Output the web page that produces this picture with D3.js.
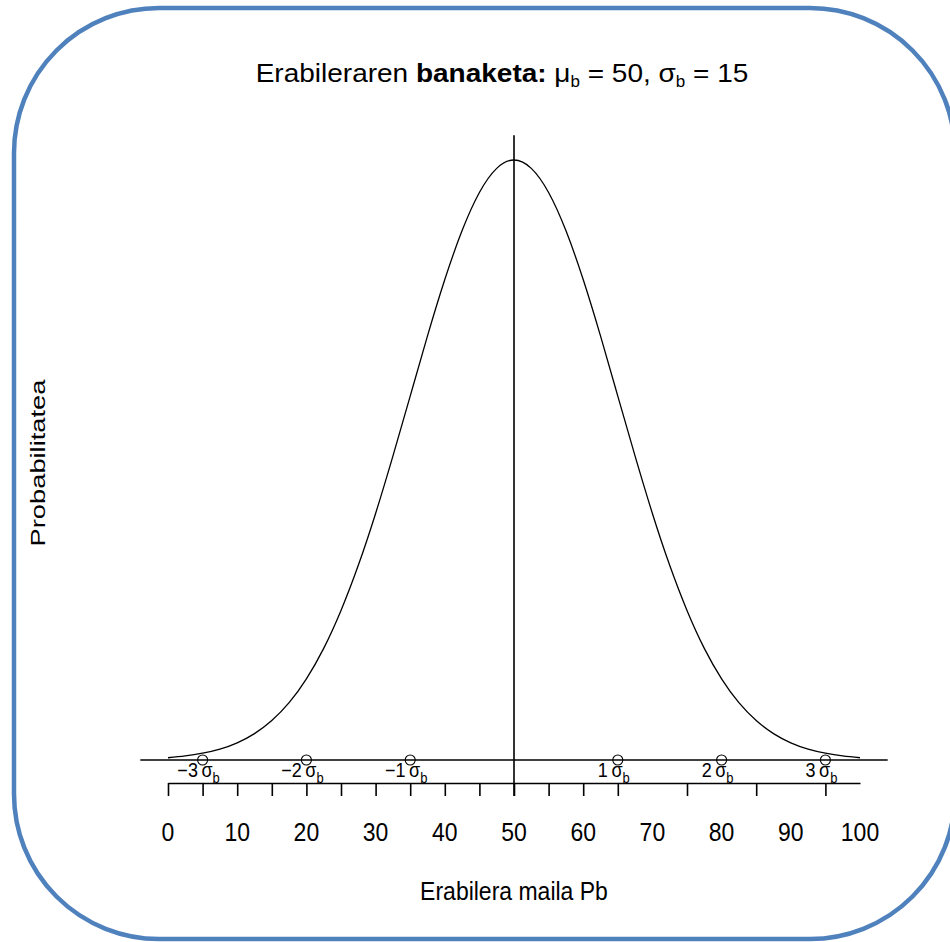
<!DOCTYPE html>
<html>
<head>
<meta charset="utf-8">
<script src="https://cdn.jsdelivr.net/npm/d3@7"></script>
<style>
  body { margin: 0; background: #fff; }
  text, tspan { font-family: "Liberation Sans", Arial, sans-serif; fill: #000; }
</style>
</head>
<body>
<div class="box"></div>
<script>
// data
const curveX = [0, 2.5, 5, 7.5, 10, 12.5, 15, 17.5, 20, 22.5, 25, 27.5, 30, 32.5, 35, 37.5, 40, 42.5, 45, 47.5, 50,
                52.5, 55, 57.5, 60, 62.5, 65, 67.5, 70, 72.5, 75, 77.5, 80, 82.5, 85, 87.5, 90, 92.5, 95, 97.5, 100];
const curveY = [0.00010, 0.00018, 0.00030, 0.00048, 0.00076, 0.00117, 0.00175, 0.00254, 0.00360, 0.00495,
                0.00663, 0.00863, 0.01093, 0.01347, 0.01613, 0.01880, 0.02130, 0.02347, 0.02516, 0.02623,
                0.02660,
                0.02623, 0.02516, 0.02347, 0.02130, 0.01880, 0.01613, 0.01347, 0.01093, 0.00863, 0.00663,
                0.00495, 0.00360, 0.00254, 0.00175, 0.00117, 0.00076, 0.00048, 0.00030, 0.00018, 0.00010];
const sigmaPos = [5, 20, 35, 65, 80, 95];
const sigmaLabels = ['\u22123', '\u22122', '\u22121', '1', '2', '3'];
const tickVals = [0, 5, 10, 15, 20, 25, 30, 35, 40, 45, 50, 55, 60, 65, 75, 85, 95];
const tickLabels = [0, 10, 20, 30, 40, 50, 60, 70, 80, 90, 100];
const meanVal = 50;

const svg = d3.select('.box')
              .append('svg')
              .attr('width', 950)
              .attr('height', 942);

// rounded frame
svg.append('rect')
   .attr('x', 14).attr('y', 8)
   .attr('width', 941).attr('height', 931)
   .attr('rx', 145).attr('ry', 145)
   .attr('fill', 'none')
   .attr('stroke', '#4f81bd')
   .attr('stroke-width', 4.5);

// scales
const x = d3.scaleLinear().domain([0, 100]).range([168, 860]);
const y = d3.scaleLinear().domain([0, 0.0266]).range([760, 160]);

// base line through zero density
svg.append('line')
   .attr('x1', x(-4)).attr('x2', x(104))
   .attr('y1', y(0)).attr('y2', y(0))
   .attr('stroke', '#000').attr('stroke-width', 1.6);

// density curve
const line = d3.line()
               .x((d, i) => x(d))
               .y((d, i) => y(curveY[i]))
               .curve(d3.curveNatural);

svg.append('path')
   .attr('d', line(curveX))
   .attr('fill', 'none')
   .attr('stroke', '#000')
   .attr('stroke-width', 1.3);

// mean line
svg.append('line')
   .attr('x1', x(meanVal)).attr('x2', x(meanVal))
   .attr('y1', y(0.0277)).attr('y2', 796)
   .attr('stroke', '#000').attr('stroke-width', 1.6);

// sigma markers
svg.selectAll('circle.sig')
   .data(sigmaPos)
   .enter()
   .append('circle')
   .attr('class', 'sig')
   .attr('cx', d => x(d))
   .attr('cy', y(0))
   .attr('r', 5)
   .attr('fill', 'none')
   .attr('stroke', '#000')
   .attr('stroke-width', 1.1);

const sigText = svg.selectAll('text.sig')
   .data(sigmaPos)
   .enter()
   .append('text')
   .attr('class', 'sig')
   .attr('fill', '#000')
   .attr('text-anchor', 'middle')
   .attr('transform', d => `translate(${x(d) - 4}, 777) scale(1, 1.1)`)
   .style('font-size', '18px');

sigText.append('tspan').attr('fill', '#000').text((d, i) => sigmaLabels[i] + '\u2009\u03c3');
sigText.append('tspan').attr('fill', '#000').attr('dy', 5).style('font-size', '13px').text('b');

// x axis: ticks
const axisTicks = d3.axisBottom(x)
                    .tickValues(tickVals)
                    .tickSize(13)
                    .tickSizeOuter(0)
                    .tickFormat('');
svg.append('g')
   .attr('transform', 'translate(0, 783)')
   .call(axisTicks)
   .call(g => g.selectAll('path, line').attr('stroke', '#000').attr('stroke-width', 1.6));

// x axis: labels
tickLabels.forEach(v => {
  svg.append('text')
     .attr('fill', '#000')
     .attr('text-anchor', 'middle')
     .attr('transform', `translate(${x(v)}, 841) scale(1, 1.13)`)
     .style('font-size', '23px')
     .text(v);
});

// title
const title = svg.append('text')
   .attr('fill', '#000')
   .attr('text-anchor', 'middle')
   .attr('transform', 'translate(502, 82) scale(1, 0.92)')
   .style('font-size', '28px');
title.append('tspan').text('Erabileraren ');
title.append('tspan').style('font-weight', 'bold').text('banaketa:');
title.append('tspan').text(' \u03bc');
title.append('tspan').attr('dy', 5).style('font-size', '17px').text('b');
title.append('tspan').attr('dy', -5).text(' = 50, \u03c3');
title.append('tspan').attr('dy', 5).style('font-size', '17px').text('b');
title.append('tspan').attr('dy', -5).text(' = 15');
title.selectAll('tspan').attr('fill', '#000');

// axis titles
svg.append('text')
   .attr('fill', '#000')
   .attr('text-anchor', 'middle')
   .attr('transform', 'translate(514, 900) scale(1, 1.1)')
   .style('font-size', '23px')
   .text('Erabilera maila Pb');

svg.append('text')
   .attr('fill', '#000')
   .attr('text-anchor', 'middle')
   .attr('transform', 'translate(45, 463) rotate(-90) scale(1.3, 1)')
   .style('font-size', '21px')
   .text('Probabilitatea');
</script>
</body>
</html>
